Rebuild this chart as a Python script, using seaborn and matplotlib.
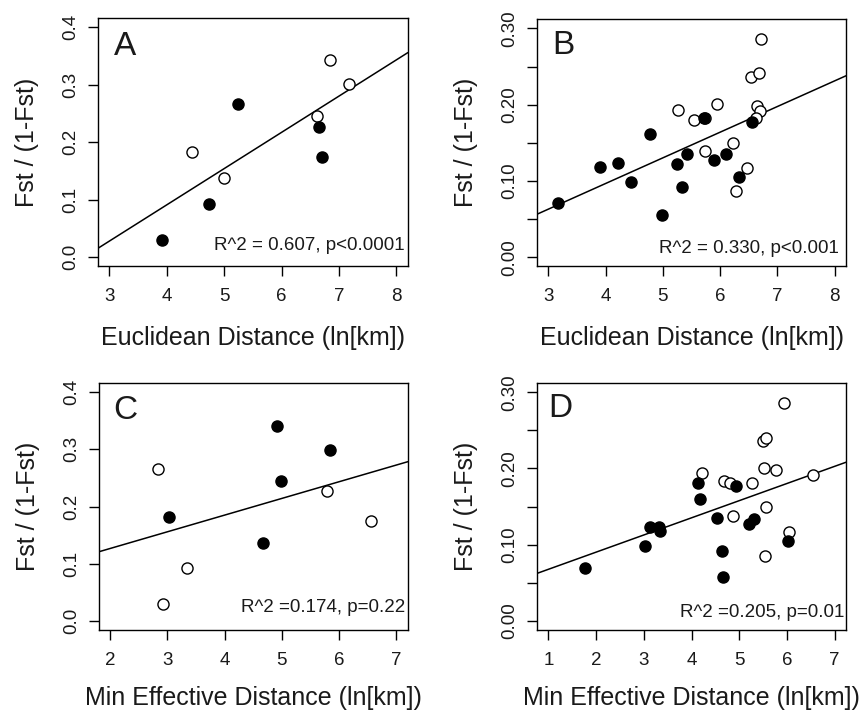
import numpy as np
import matplotlib
matplotlib.use("Agg")
import matplotlib.pyplot as plt
import seaborn as sns

# panel A - euclidean distance, few populations
a_x_filled = [3.91, 4.74, 5.24, 6.65, 6.70]
a_y_filled = [0.030, 0.093, 0.267, 0.227, 0.174]
a_x_open = [4.44, 4.99, 6.62, 6.85, 7.17]
a_y_open = [0.182, 0.137, 0.246, 0.342, 0.301]

# panel B - euclidean distance, many populations
b_x_filled = [3.17, 3.90, 4.22, 4.44, 4.77, 4.98, 5.24, 5.34, 5.42, 5.72, 5.90, 6.10, 6.33, 6.55]
b_y_filled = [0.0705, 0.1187, 0.1235, 0.098, 0.161, 0.0556, 0.1226, 0.0924, 0.1358, 0.183, 0.127, 0.135, 0.105, 0.177]
b_x_open = [5.27, 5.55, 5.73, 5.95, 6.23, 6.28, 6.47, 6.54, 6.68, 6.71, 6.64, 6.69, 6.62, 5.74]
b_y_open = [0.1936, 0.180, 0.139, 0.201, 0.150, 0.0863, 0.117, 0.2365, 0.241, 0.286, 0.198, 0.192, 0.183, 0.183]

# panel C - min effective distance, few populations
c_x_filled = [3.03, 4.67, 4.91, 4.98, 5.84]
c_y_filled = [0.1816, 0.137, 0.341, 0.245, 0.2996]
c_x_open = [2.84, 2.93, 3.34, 5.79, 6.56]
c_y_open = [0.2657, 0.0304, 0.0928, 0.227, 0.174]

# panel D - min effective distance, many populations
d_x_filled = [1.76, 3.02, 3.14, 3.32, 3.35, 4.13, 4.17, 4.53, 4.63, 4.67, 4.93, 5.20, 5.30, 6.02]
d_y_filled = [0.0701, 0.0977, 0.123, 0.123, 0.118, 0.181, 0.160, 0.135, 0.0924, 0.0574, 0.177, 0.1266, 0.134, 0.1055]
d_x_open = [4.21, 4.69, 4.80, 5.27, 5.51, 5.77, 6.54, 4.88, 5.56, 6.04, 5.54, 5.49, 5.56, 5.93]
d_y_open = [0.194, 0.1835, 0.181, 0.181, 0.201, 0.1975, 0.191, 0.138, 0.149, 0.117, 0.0858, 0.2365, 0.240, 0.2856]

letras = ["A", "B", "C", "D"]
estatisticas = ["R^2 = 0.607, p<0.0001", "R^2 = 0.330, p<0.001",
                "R^2 =0.174, p=0.22", "R^2 =0.205, p=0.01"]
rotulo_x = ["Euclidean Distance (ln[km])", "Euclidean Distance (ln[km])",
            "Min Effective Distance (ln[km])", "Min Effective Distance (ln[km])"]
rotulo_y = "Fst / (1-Fst)"

sns.set_style("ticks")
plt.rcParams["font.family"] = ["Liberation Sans", "DejaVu Sans"]

fig = plt.figure(figsize=(8.66, 7.12), dpi=100)

paineis = [
    dict(dados=(a_x_filled, a_y_filled, a_x_open, a_y_open), pos=[0.113, 0.626, 0.358, 0.349],
         xlim=(2.8, 8.2), xt=[3, 4, 5, 6, 7, 8], ylim=(-0.016, 0.416), yt=[0, 0.1, 0.2, 0.3, 0.4],
         ylab=["0.0", "0.1", "0.2", "0.3", "0.4"], txt=(0.087, 0.883, 0.99, 0.085), xl=-0.24),
    dict(dados=(b_x_filled, b_y_filled, b_x_open, b_y_open), pos=[0.620, 0.626, 0.357, 0.347],
         xlim=(2.8, 8.2), xt=[3, 4, 5, 6, 7, 8], ylim=(-0.012, 0.312),
         yt=[0, 0.05, 0.10, 0.15, 0.20, 0.25, 0.30],
         ylab=["0.00", "", "0.10", "", "0.20", "", "0.30"], txt=(0.084, 0.895, 0.977, 0.073), xl=-0.24),
    dict(dados=(c_x_filled, c_y_filled, c_x_open, c_y_open), pos=[0.114, 0.115, 0.357, 0.347],
         xlim=(1.8, 7.2), xt=[2, 3, 4, 5, 6, 7], ylim=(-0.016, 0.416), yt=[0, 0.1, 0.2, 0.3, 0.4],
         ylab=["0.0", "0.1", "0.2", "0.3", "0.4"], txt=(0.087, 0.887, 0.99, 0.09), xl=-0.225),
    dict(dados=(d_x_filled, d_y_filled, d_x_open, d_y_open), pos=[0.620, 0.115, 0.357, 0.347],
         xlim=(0.76, 7.24), xt=[1, 2, 3, 4, 5, 6, 7], ylim=(-0.012, 0.312),
         yt=[0, 0.05, 0.10, 0.15, 0.20, 0.25, 0.30],
         ylab=["0.00", "", "0.10", "", "0.20", "", "0.30"], txt=(0.075, 0.895, 0.995, 0.07), xl=-0.225),
]

for i, p in enumerate(paineis):
    ax = fig.add_axes(p["pos"])
    xf, yf, xo, yo = p["dados"]
    ax.set_xlim(p["xlim"])
    ax.set_ylim(p["ylim"])

    # reta de regressao com todos os pontos
    sns.regplot(x=np.array(xf + xo), y=np.array(yf + yo), scatter=False, ci=None,
                truncate=False, ax=ax, line_kws=dict(color="black", lw=1.1))

    sns.scatterplot(x=xo, y=yo, ax=ax, s=64, facecolor="white", edgecolor="black",
                    linewidth=1.0, zorder=3)
    sns.scatterplot(x=xf, y=yf, ax=ax, s=64, color="black", edgecolor="black",
                    linewidth=1.0, zorder=4)

    ax.set_xlim(p["xlim"])
    ax.set_ylim(p["ylim"])
    ax.set_xticks(p["xt"])
    ax.set_yticks(p["yt"])
    ax.set_yticklabels(p["ylab"])
    ax.tick_params(axis="both", direction="out", length=7.5, width=1.0, color="black",
                   labelsize=13.5, labelcolor="#1a1a1a")
    ax.tick_params(axis="x", pad=8)
    ax.tick_params(axis="y", pad=6, labelrotation=90)
    for lbl in ax.get_yticklabels():
        lbl.set_va("center")
    for sp in ax.spines.values():
        sp.set_visible(True)
        sp.set_linewidth(1.0)
        sp.set_color("black")

    ax.set_xlabel(rotulo_x[i], fontsize=18, color="#1a1a1a")
    ax.set_ylabel(rotulo_y, fontsize=18, color="#1a1a1a")
    ax.xaxis.set_label_coords(0.5, p["xl"])
    ax.yaxis.set_label_coords(-0.19, 0.5)

    lx, ly, sx, sy = p["txt"]
    ax.text(lx, ly, letras[i], transform=ax.transAxes, fontsize=24, ha="center",
            va="center", color="#1a1a1a")
    ax.text(sx, sy, estatisticas[i], transform=ax.transAxes, fontsize=13.5, ha="right",
            va="center", color="#1a1a1a")

fig.savefig("out.png", dpi=100)
